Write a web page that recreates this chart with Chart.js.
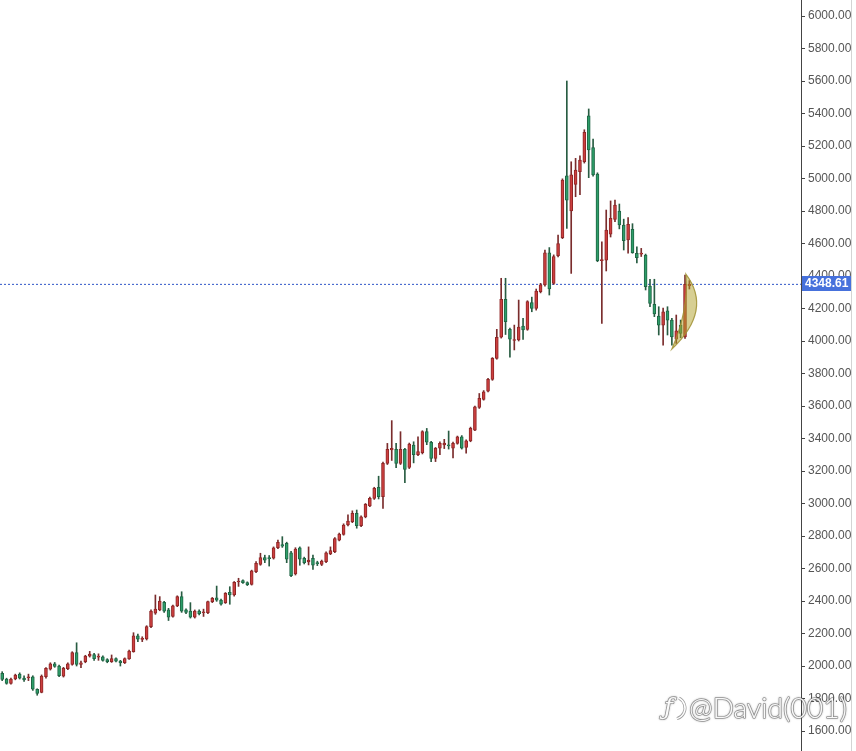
<!DOCTYPE html>
<html>
<head>
<meta charset="utf-8">
<script src="https://cdn.jsdelivr.net/npm/chart.js@4.4.1/dist/chart.umd.min.js"></script>
<style>
html,body{margin:0;padding:0;background:#fff;}
#wrap{width:856px;height:751px;position:relative;}
</style>
</head>
<body>
<div id="wrap"><canvas id="c"></canvas></div>
<script>
// ---- Data ----
const openP = [1955,1920,1893,1920,1950,1925,1928,1934,1857,1838,1934,1980,2014,2000,1938,1983,2010,2082,2010,2027,
2061,2070,2055,2057,2040,2027,2045,2030,2020,2043,2088,2185,2164,2166,2242,2325,2345,2392,2345,2305,
2370,2427,2345,2338,2300,2338,2328,2328,2396,2420,2405,2390,2453,2437,2517,2525,2513,2502,2580,2625,
2667,2667,2663,2728,2747,2755,2697,2566,2728,2663,2640,2663,2634,2625,2642,2690,2703,2775,2810,2868,
2888,2940,2864,2918,2985,3032,3100,3042,3247,3330,3333,3247,3333,3222,3360,3300,3313,3442,3377,3278,
3340,3360,3359,3340,3370,3410,3345,3385,3452,3592,3641,3692,3764,3893,4023,4257,4072,4003,4006,4092,
4072,4236,4201,4304,4345,4543,4355,4525,4636,5017,4800,4964,5042,5103,5385,5190,5028,4495,4498,4657,
4749,4800,4714,4622,4687,4540,4535,4529,4338,4226,4154,4098,4185,4129,4012,4098,4025,4340];
const highP = [1965,1925,1925,1950,1958,1940,1950,1940,1860,1945,1990,2020,2022,2005,1992,2020,2088,2143,2030,2066,
2090,2078,2075,2062,2045,2068,2050,2035,2050,2098,2205,2197,2180,2248,2345,2437,2427,2398,2355,2375,
2432,2457,2352,2390,2345,2345,2350,2400,2422,2492,2412,2452,2488,2520,2540,2530,2518,2590,2642,2694,
2682,2680,2733,2775,2796,2762,2705,2728,2733,2670,2733,2682,2645,2652,2703,2733,2790,2818,2875,2930,
2955,2960,2924,3000,3040,3100,3168,3255,3370,3510,3370,3442,3340,3372,3380,3410,3448,3462,3382,3345,
3380,3395,3446,3378,3415,3418,3392,3470,3600,3677,3695,3770,3898,4072,4386,4386,4080,4098,4252,4140,
4248,4270,4320,4355,4560,4575,4530,4652,4998,5600,5103,5124,5140,5300,5428,5243,5035,4611,4806,4862,
4868,4843,4750,4760,4722,4580,4570,4535,4380,4380,4211,4203,4211,4140,4160,4129,4406,4372];
const lowP = [1910,1888,1888,1915,1920,1905,1910,1850,1820,1835,1925,1975,1992,1935,1932,1978,2005,2000,1990,2020,
2055,2035,2035,2030,2020,2022,2025,2000,2015,2040,2085,2150,2150,2160,2236,2318,2340,2330,2280,2300,
2365,2330,2322,2295,2295,2315,2305,2322,2390,2398,2375,2385,2380,2430,2490,2508,2495,2498,2575,2620,
2636,2615,2658,2722,2730,2636,2550,2560,2620,2628,2622,2595,2618,2618,2636,2685,2698,2770,2805,2862,
2882,2848,2858,2912,2980,3025,3028,2970,3240,3265,3220,3240,3128,3215,3250,3295,3305,3362,3258,3258,
3300,3338,3335,3280,3365,3335,3310,3380,3448,3585,3636,3686,3758,3888,4018,4040,3900,3945,4000,4010,
4066,4180,4190,4296,4338,4283,4348,4518,4630,4693,4416,4888,4900,5095,5005,5015,4488,4109,4431,4640,
4735,4690,4560,4540,4540,4480,4520,4314,4212,4150,4037,3975,4037,3975,3985,4020,4016,4320];
const closeP = [1918,1893,1920,1944,1925,1915,1932,1857,1832,1938,1986,2014,1997,1940,1986,2014,2082,2010,2020,2061,
2074,2045,2059,2035,2027,2045,2030,2020,2045,2092,2185,2165,2168,2242,2338,2351,2400,2338,2300,2370,
2427,2338,2330,2300,2338,2322,2332,2396,2416,2405,2380,2447,2437,2515,2521,2513,2500,2585,2632,2667,
2652,2660,2728,2761,2738,2658,2556,2720,2658,2636,2652,2620,2630,2645,2697,2710,2784,2812,2868,2892,
2940,2864,2918,2995,3032,3093,3042,3247,3333,3340,3247,3333,3210,3366,3300,3320,3442,3377,3278,3340,
3370,3372,3355,3370,3410,3340,3385,3463,3595,3647,3688,3764,3893,4023,4257,4119,4012,4008,4085,4068,
4242,4201,4308,4345,4543,4320,4520,4600,4991,4867,5022,5052,5114,5284,5176,5022,4494,4500,4683,4755,
4837,4714,4617,4718,4543,4513,4540,4335,4232,4166,4098,4180,4129,4025,4062,4047,4349,4348.61];
const yTickStep = 200;
const lastPrice = closeP[closeP.length - 1];
// highlighted crescent annotation, in data space: [index, value]
const crescentTop = [156.2, 4412];
const crescentBottom = [153.0, 3951];
const crescentOuterCtrl = [162.4, 4191];
const crescentInnerCtrl = [156.9, 4191];
const watermarkText = '@David(001)';

// ---- build datasets ----
const idx = openP.map((_, i) => i);
const isUp = idx.map(i => closeP[i] >= openP[i]);
const bodyFill = isUp.map(u => u ? '#cc3f3f' : '#2d9d69');
const bodyEdge = isUp.map(u => u ? '#8e2626' : '#1f6544');
const wickCol = isUp.map(u => u ? '#7a2c2c' : '#285c42');
const X_MIN = -0.5, X_MAX = 182.5, Y_MIN = 1477, Y_MAX = 6098.5;

const extras = {
  id: 'extras',
  afterDatasetsDraw(chart) {
    const {ctx, scales: {x, y}} = chart;
    const P = p => [x.getPixelForValue(p[0]), y.getPixelForValue(p[1])];
    const T = P(crescentTop), B = P(crescentBottom), CO = P(crescentOuterCtrl), CI = P(crescentInnerCtrl);
    ctx.save();
    ctx.beginPath();
    ctx.moveTo(T[0], T[1]);
    ctx.quadraticCurveTo(CO[0], CO[1], B[0], B[1]);
    ctx.quadraticCurveTo(CI[0], CI[1], T[0], T[1]);
    ctx.closePath();
    ctx.fillStyle = 'rgba(176,160,40,0.5)';
    ctx.fill();
    ctx.strokeStyle = 'rgba(160,145,50,0.85)';
    ctx.lineWidth = 1.2;
    ctx.stroke();
    ctx.restore();
  },
  afterDraw(chart) {
    const {ctx, scales: {y}} = chart;
    ctx.save();
    ctx.strokeStyle = '#d4d4d4';
    ctx.lineWidth = 1;
    ctx.beginPath();
    ctx.moveTo(y.right - 4.5, 0);
    ctx.lineTo(y.right - 4.5, chart.height);
    ctx.stroke();
    const py = Math.round(y.getPixelForValue(lastPrice));
    ctx.fillStyle = '#4671dc';
    ctx.fillRect(y.left + 1, py - 8, 49, 15);
    ctx.fillStyle = '#ffffff';
    ctx.font = 'bold 12px "Liberation Sans", Arial, sans-serif';
    ctx.textBaseline = 'middle';
    ctx.textAlign = 'left';
    ctx.fillText(lastPrice.toFixed(2), y.left + 4, py);
    ctx.font = '300 26px Lato, "Noto Sans", sans-serif';
    const w = ctx.measureText(watermarkText).width;
    const fs = 26 * 158 / w;
    ctx.font = '300 ' + fs.toFixed(1) + 'px Lato, "Noto Sans", sans-serif';
    const tx = 689, ty = 709;
    ctx.textBaseline = 'middle';
    ctx.lineJoin = 'round';
    ctx.shadowColor = 'rgba(0,0,0,0.45)';
    ctx.shadowBlur = 2;
    ctx.strokeStyle = 'rgba(90,90,90,0.55)';
    ctx.lineWidth = 1.6;
    ctx.strokeText(watermarkText, tx, ty);
    ctx.shadowBlur = 0;
    ctx.fillStyle = 'rgba(255,255,255,0.95)';
    ctx.fillText(watermarkText, tx, ty);
    ctx.font = 'italic 300 24px "DejaVu Serif", serif';
    ctx.shadowBlur = 2;
    ctx.strokeText('ƒ', 664, ty);
    ctx.shadowBlur = 0;
    ctx.fillText('ƒ', 664, ty);
    ctx.beginPath();
    ctx.arc(674, ty - 1, 11, -1.1, 1.3);
    ctx.strokeStyle = 'rgba(90,90,90,0.6)';
    ctx.lineWidth = 3;
    ctx.stroke();
    ctx.strokeStyle = '#fff';
    ctx.lineWidth = 1.5;
    ctx.stroke();
    ctx.restore();
  }
};

new Chart(document.getElementById('c'), {
  type: 'bar',
  data: {
    datasets: [
      {
        label: 'body',
        data: idx.map(i => ({x: i, y: [openP[i], closeP[i]]})),
        backgroundColor: bodyFill,
        borderColor: bodyEdge,
        borderWidth: 1,
        borderSkipped: false,
        barThickness: 3,
        minBarLength: 1,
        grouped: false
      },
      {
        label: 'wick',
        data: idx.map(i => ({x: i, y: [lowP[i], highP[i]]})),
        backgroundColor: wickCol,
        borderWidth: 0,
        barThickness: 1,
        grouped: false
      },
      {
        type: 'line',
        label: 'last',
        data: [{x: X_MIN, y: lastPrice}, {x: X_MAX, y: lastPrice}],
        borderColor: '#2f55c8',
        borderWidth: 1,
        borderDash: [2, 2],
        pointRadius: 0,
        fill: false
      }
    ]
  },
  options: {
    responsive: true,
    maintainAspectRatio: false,
    animation: false,
    devicePixelRatio: 1,
    layout: {padding: 0},
    plugins: {legend: {display: false}, tooltip: {enabled: false}},
    scales: {
      x: {type: 'linear', min: X_MIN, max: X_MAX, offset: false, display: false},
      y: {
        position: 'right',
        min: Y_MIN, max: Y_MAX,
        afterFit: s => { s.width = 55; s.paddingTop = 0; s.paddingBottom = 0; },
        afterBuildTicks: s => {
          const t = [];
          for (let v = Math.ceil(s.min / yTickStep) * yTickStep; v <= s.max; v += yTickStep) t.push({value: v});
          s.ticks = t;
        },
        grid: {drawOnChartArea: false, tickLength: 4, color: '#444', tickColor: '#444'},
        border: {display: true, color: '#444', width: 1},
        ticks: {
          padding: 3,
          color: '#555',
          font: {family: '"Liberation Sans", Arial, sans-serif', size: 12},
          callback: v => Number(v).toFixed(2)
        }
      }
    }
  },
  plugins: [extras]
});
</script>
</body>
</html>
